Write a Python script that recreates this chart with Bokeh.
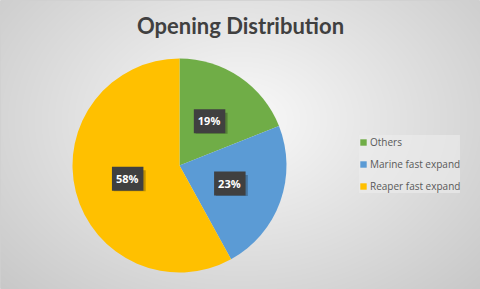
import numpy as np
from bokeh.plotting import figure
from bokeh.models import Legend, LegendItem, ColumnDataSource
from bokeh.core.properties import value
from bokeh.embed import file_html
from bokeh.resources import INLINE

categories = ["Others", "Marine fast expand", "Reaper fast expand"]
shares = [19, 23, 58]
colors = ["#70ad47", "#5b9bd5", "#ffc000"]
title_text = "Opening Distribution"

W, H = 480, 289
p = figure(width=W, height=H, x_range=(0, W), y_range=(0, H),
           output_backend="svg", toolbar_location=None, min_border=0)
p.axis.visible = False
p.grid.visible = False
p.outline_line_color = "#d0d0d0"
p.background_fill_color = "#e6e6e6"
p.border_fill_color = "#e6e6e6"

# background radial gradient (decoration)
gy, gx = np.mgrid[0:H, 0:W]
d = np.sqrt(((gx - 240) / 300.0) ** 2 + ((gy - (H - 120)) / 220.0) ** 2)
v = np.clip(250 - 45 * d, 200, 252).astype(np.uint32)
img = (255 << 24) | (v << 16) | (v << 8) | v
p.image_rgba(image=[img.astype(np.uint32)], x=0, y=0, dw=W, dh=H)

cx, cy, r = 179, H - 165, 107
tot = float(sum(shares))
fr = np.array(shares) / tot
cum = np.concatenate([[0], np.cumsum(fr)])
start = np.pi / 2 - 2 * np.pi * cum[:-1]
end = np.pi / 2 - 2 * np.pi * cum[1:]
src = ColumnDataSource(dict(start=start, end=end, color=colors))
p.wedge(x=cx, y=cy, radius=r, start_angle="start", end_angle="end",
        direction="clock", fill_color="color", line_color=None, source=src)

mid = 2 * np.pi * (cum[:-1] + cum[1:]) / 2
lx = cx + 0.5 * r * np.sin(mid)
ly = cy + 0.5 * r * np.cos(mid)
labels = [f"{s}%" for s in shares]
# shadow
p.rect(x=lx + 2, y=ly - 2, width=32, height=21, fill_color="#000000",
       fill_alpha=0.25, line_color=None)
p.text(x=lx, y=ly, text=labels, text_align="center", text_baseline="middle",
       text_font=value("Open Sans"), text_font_style="bold", text_font_size="11px",
       text_color="white", background_fill_color="#404040",
       padding=[4, 5, 4, 5])

p.text(x=[240], y=[H - 25], text=[title_text], text_align="center",
       text_baseline="middle", text_font=value("Lato"), text_font_style="bold",
       text_font_size="22px", text_color="#404040")

items = []
for c, name in zip(colors, categories):
    rr = p.quad(left=[np.nan], right=[np.nan], bottom=[np.nan], top=[np.nan],
                fill_color=c, line_color=None)
    items.append(LegendItem(label=name, renderers=[rr]))
leg = Legend(items=items, location=(359, 96), glyph_width=8, glyph_height=8,
             label_text_font="Open Sans", label_text_font_size="10px",
             label_text_color="#595959", label_standoff=3, spacing=8,
             label_height=14, padding=6, margin=0,
             background_fill_color="#ececec", background_fill_alpha=0.6,
             border_line_color=None)
p.add_layout(leg, "center")

open("out.html", "w").write(file_html(p, INLINE))
